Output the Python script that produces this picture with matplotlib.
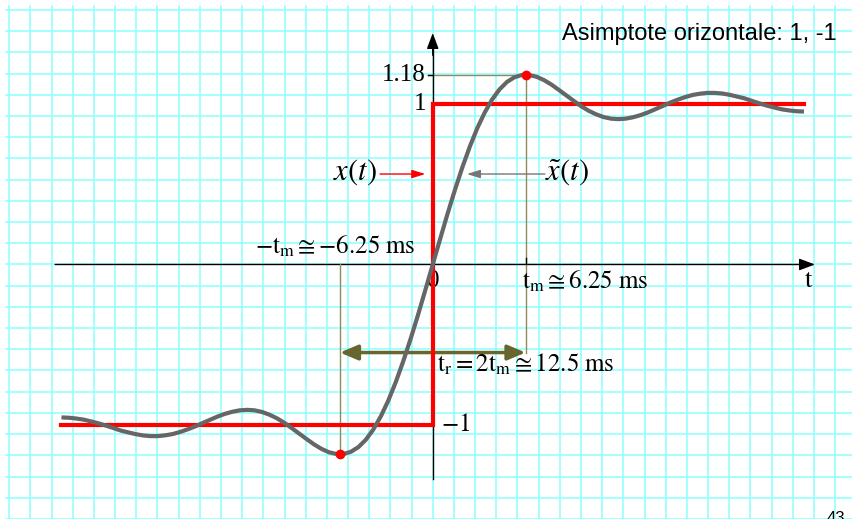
import matplotlib
matplotlib.use('Agg')
import matplotlib.pyplot as plt

plt.rcParams['mathtext.fontset'] = 'stix'
plt.rcParams['font.family'] = ['Liberation Serif', 'DejaVu Serif']

# gradino ideale x(t) e sua versione a banda limitata x~(t)
step_t = [-25, 0, 0, 25]
step_v = [-1, -1, 1, 1]

t_ms = [-25, -24.5, -24, -23.5, -23, -22.5, -22, -21.5, -21, -20.5, -20,
        -19.5, -19, -18.5, -18, -17.5, -17, -16.5, -16, -15.5, -15, -14.5,
        -14, -13.5, -13, -12.5, -12, -11.5, -11, -10.5, -10, -9.5, -9, -8.5,
        -8, -7.5, -7, -6.5, -6.25, -6, -5.5, -5, -4.5, -4, -3.5, -3, -2.5,
        -2, -1.5, -1, -0.5,
        0, 0.5, 1, 1.5, 2, 2.5, 3, 3.5, 4, 4.5, 5, 5.5, 6, 6.25, 6.5, 7,
        7.5, 8, 8.5, 9, 9.5, 10, 10.5, 11, 11.5, 12, 12.5, 13, 13.5, 14,
        14.5, 15, 15.5, 16, 16.5, 17, 17.5, 18, 18.5, 19, 19.5, 20, 20.5,
        21, 21.5, 22, 22.5, 23, 23.5, 24, 24.5, 25]
x_tilde = [-0.950, -0.952, -0.957, -0.964, -0.975, -0.987, -1.001, -1.016,
           -1.032, -1.043, -1.054, -1.062, -1.066, -1.066, -1.061, -1.053,
           -1.040, -1.024, -1.006, -0.985, -0.965, -0.945, -0.928, -0.915,
           -0.906, -0.903, -0.906, -0.916, -0.933, -0.955, -0.983, -1.016,
           -1.050, -1.084, -1.117, -1.145, -1.166, -1.177, -1.180, -1.177,
           -1.163, -1.134, -1.088, -1.025, -0.944, -0.847, -0.733, -0.605,
           -0.465, -0.316, -0.159,
           0.000, 0.159, 0.316, 0.465, 0.605, 0.733, 0.847, 0.944, 1.025,
           1.088, 1.134, 1.163, 1.177, 1.180, 1.177, 1.166, 1.145, 1.117,
           1.084, 1.050, 1.016, 0.983, 0.955, 0.933, 0.916, 0.906, 0.903,
           0.906, 0.915, 0.928, 0.945, 0.965, 0.985, 1.006, 1.024, 1.040,
           1.053, 1.061, 1.066, 1.066, 1.062, 1.054, 1.043, 1.032, 1.016,
           1.001, 0.987, 0.975, 0.964, 0.957, 0.952, 0.950]

# massimi della sovraelongazione
t_m = 6.25
peak_t = [-t_m, t_m]
peak_v = [-1.18, 1.18]

GRID_X = 1.426   # passo della quadrettatura (ms)
GRID_Y = 0.1317  # passo della quadrettatura (ampiezza)

OLIVE = '#8c8c5e'
DARK_OLIVE = '#66662e'
GRAY = '#666666'
CYAN = '#8cffff'

fig = plt.figure(figsize=(8.53, 5.19), dpi=100)
ax = fig.add_axes([0, 0, 1, 1])
ax.set_xlim(-29.14, 28.30)
ax.set_ylim(-1.581, 1.643)
ax.axis('off')

# quadrettatura
for k in range(-20, 21):
    ax.plot([k * GRID_X, k * GRID_X], [-1.7, 1.605], color=CYAN, lw=1.1, zorder=0)
for k in range(-12, 13):
    ax.plot([-28.73, 30], [k * GRID_Y, k * GRID_Y], color=CYAN, lw=1.1, zorder=0)

# assi con frecce
head = '-|>,head_length=0.8,head_width=0.3'
ax.annotate('', xy=(25.74, 0), xytext=(-25.43, 0),
            arrowprops=dict(arrowstyle=head, mutation_scale=12, color='black',
                            lw=1, shrinkA=0, shrinkB=0), zorder=2)
ax.plot([0, 0], [-1.33, 1.35], color='black', lw=1, zorder=2)
ax.annotate('', xy=(0, 1.438), xytext=(0, 1.3),
            arrowprops=dict(arrowstyle=head, mutation_scale=12, color='black',
                            lw=1, shrinkA=0, shrinkB=0), zorder=2)

# linee di riferimento per tm e 1.18
ax.plot([-0.3, peak_t[1]], [peak_v[1], peak_v[1]], color=OLIVE, lw=1, zorder=2)
ax.plot([-0.3, 0], [peak_v[1], peak_v[1]], color='black', lw=1, zorder=2)
ax.plot([peak_t[1], peak_t[1]], [peak_v[1], -0.547], color=OLIVE, lw=1, zorder=2)
ax.plot([peak_t[0], peak_t[0]], [0, peak_v[0]], color=OLIVE, lw=1, zorder=2)
ax.plot([peak_t[1], peak_t[1]], [0, 0.04], color='black', lw=1, zorder=2)

# tempo di salita tr
ax.annotate('', xy=(peak_t[1], -0.547), xytext=(peak_t[0], -0.547),
            arrowprops=dict(arrowstyle='<|-|>,head_length=0.9,head_width=0.38',
                            mutation_scale=12, color=DARK_OLIVE, lw=2.5,
                            shrinkA=0, shrinkB=0), zorder=3)

ax.text(0.05, -0.14, '0', fontsize=18, ha='center', va='baseline', zorder=2)

ax.plot(step_t, step_v, color='#ff0000', lw=3, zorder=4, solid_joinstyle='miter')
ax.plot(t_ms, x_tilde, color=GRAY, lw=3, zorder=5, solid_capstyle='butt')
ax.plot(peak_t, peak_v, 'o', color='#ff0000', ms=6, zorder=6)

# etichette asse verticale
ax.text(-0.45, 1.18, '1.18', fontsize=18, ha='right', va='center')
ax.text(-0.45, 1.0, '1', fontsize=18, ha='right', va='center')
ax.text(0.55, -1.0, r'$-1$', fontsize=18, ha='left', va='center')

# indicatori delle curve
ax.text(-5.25, 0.575, r'$x(t)$', fontsize=22, ha='center', va='center')
ax.annotate('', xy=(-0.5, 0.562), xytext=(-3.55, 0.562),
            arrowprops=dict(arrowstyle='-|>,head_length=0.8,head_width=0.25',
                            mutation_scale=10, color='#ff0000', lw=1,
                            shrinkA=0, shrinkB=0))
ax.text(9.05, 0.575, r'$\tilde{x}(t)$', fontsize=22, ha='center', va='center')
ax.annotate('', xy=(2.3, 0.562), xytext=(7.55, 0.562),
            arrowprops=dict(arrowstyle='-|>,head_length=0.8,head_width=0.25',
                            mutation_scale=10, color='#777777', lw=1,
                            shrinkA=0, shrinkB=0))

# etichette dei tempi
ax.text(-11.97, 0.07, r'$-\mathrm{t_m}\cong{-}6.25\ \mathrm{ms}$', fontsize=18,
        ha='left', va='baseline')
ax.text(6.0, -0.146, r'$\mathrm{t_m}\cong6.25\ \mathrm{ms}$', fontsize=18,
        ha='left', va='baseline')
ax.text(0.3, -0.666, r'$\mathrm{t_r}=2\mathrm{t_m}\cong12.5\ \mathrm{ms}$', fontsize=18,
        ha='left', va='baseline')
ax.text(25.35, -0.138, r'$\mathrm{t}$', fontsize=19, ha='center', va='baseline')

ax.text(8.71, 1.394, 'Asimptote orizontale: 1, -1', fontsize=17,
        family='Liberation Sans', ha='left', va='baseline')
fig.text(827 / 853, 1 - 511 / 519, '43', fontsize=12, family='Liberation Sans',
         ha='left', va='top')

plt.savefig('out.png', dpi=100, facecolor='white')
plt.close()
